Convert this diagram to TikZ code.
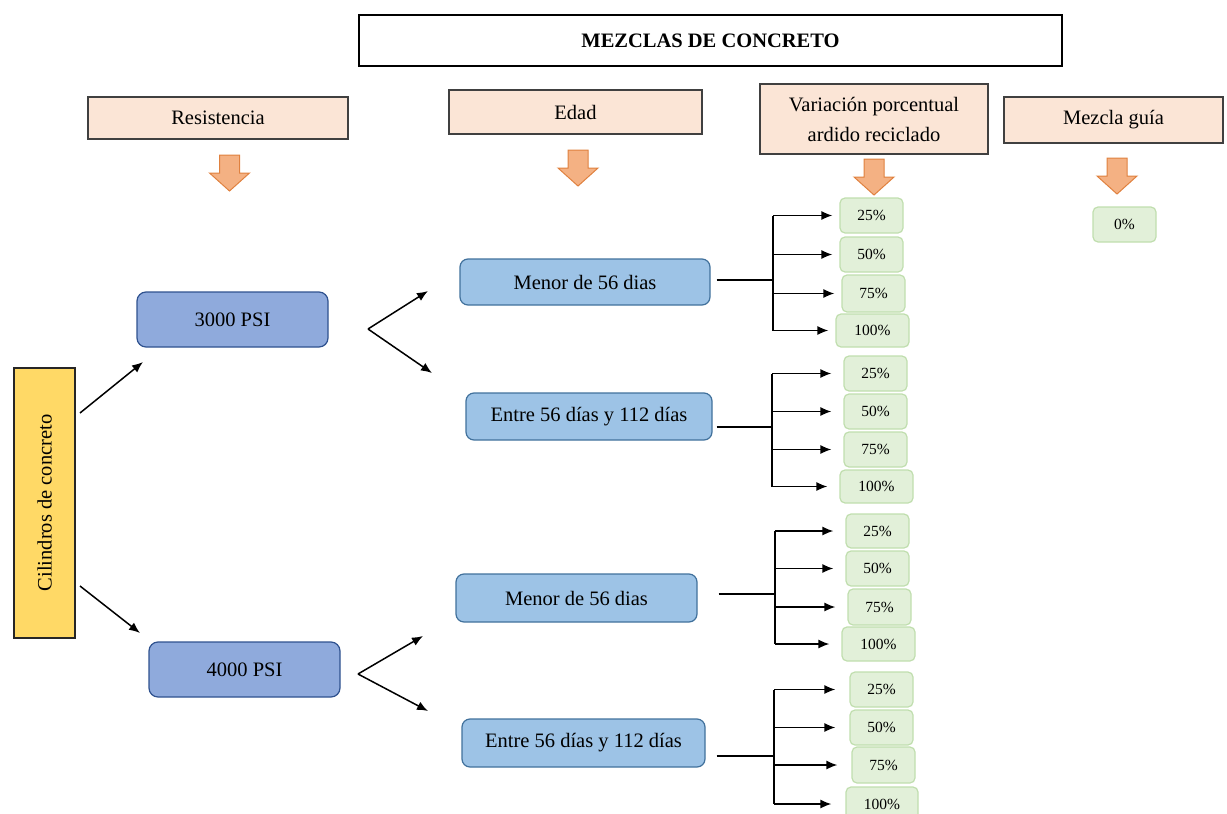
\documentclass[tikz,border=0pt]{standalone}
\usepackage{fontspec}
\setmainfont{Liberation Serif}
\usetikzlibrary{arrows.meta}
\definecolor{peach}{HTML}{FBE5D6}
\definecolor{hdrline}{HTML}{404040}
\definecolor{orgfill}{HTML}{F4B183}
\definecolor{orgdraw}{HTML}{E0813F}
\definecolor{yel}{HTML}{FFD966}
\definecolor{psifill}{HTML}{8FAADC}
\definecolor{psiline}{HTML}{2F528F}
\definecolor{agefill}{HTML}{9DC3E6}
\definecolor{ageline}{HTML}{41719C}
\definecolor{grfill}{HTML}{E2F0D9}
\definecolor{grline}{HTML}{C0DEAE}
\tikzset{
  txt/.style={font=\fontsize{20.5}{24}\selectfont, inner sep=0pt, align=center},
  titlebox/.style={draw=black, line width=1.3pt, fill=white, minimum width=703, minimum height=51, inner sep=0pt, font=\fontsize{20.5}{24}\selectfont\bfseries},
  hdrbox/.style={txt, draw=hdrline, line width=1.3pt, fill=peach},
  cilbox/.style={txt, draw=black!85, line width=1.3pt, fill=yel},
  psibox/.style={txt, draw=psiline, line width=1.2pt, fill=psifill, rounded corners=9pt, minimum width=191, minimum height=55},
  agebox/.style={txt, draw=ageline, line width=1.2pt, fill=agefill, rounded corners=8pt},
  pctbox/.style={draw=grline, line width=1.2pt, fill=grfill, rounded corners=5pt, inner sep=0pt, font=\fontsize{15.5}{18}\selectfont},
  arr/.style={line width=1.5pt, -{Latex[length=11pt,width=9pt]}},
  stem/.style={line width=1.5pt},
  thickstem/.style={line width=2.6pt},
  darr/.pic={\path[fill=orgfill, draw=orgdraw, line width=1pt]
     (-10,0) -- (10,0) -- (10,18) -- (20,18) -- (0,36) -- (-20,18) -- (-10,18) -- cycle;}
}
\begin{document}
\begin{tikzpicture}[x=1pt,y=-1pt]
\useasboundingbox (0,0) rectangle (1227,814);

% headers
\node[titlebox] (title) at (710.5,40.5) {MEZCLAS DE CONCRETO};
\node[hdrbox, minimum width=260, minimum height=42] (res) at (218,118) {Resistencia};
\node[hdrbox, minimum width=253, minimum height=44] (edad) at (575.5,112) {Edad};
\node[hdrbox, minimum width=228, minimum height=70, font=\fontsize{20.5}{30}\selectfont] (var) at (874,119) {Variación porcentual\\ardido reciclado};
\node[hdrbox, minimum width=219, minimum height=46] (mez) at (1113.5,120) {Mezcla guía};

\pic at (229.5,155) {darr};
\pic at (578,150) {darr};
\pic at (874,159) {darr};
\pic at (1117,158) {darr};

\node[pctbox, minimum width=63, minimum height=35] (zero) at (1124.5,224.5) {0\%};

% left column
\node[cilbox, minimum width=61, minimum height=270] (cil) at (44.5,503) {};
\node[txt, rotate=90] (ciltxt) at (cil.center) {Cilindros de concreto};

\node[psibox] (p3) at (232.5,319.5) {3000 PSI};
\node[psibox] (p4) at (244.5,669.5) {4000 PSI};

\coordinate (c3s) at (80,413);
\coordinate (c3e) at (143,362);
\coordinate (c4s) at (80,586);
\coordinate (c4e) at (140,633);
\draw[arr] (c3s) -- (c3e);
\draw[arr] (c4s) -- (c4e);

% age boxes
\node[agebox, minimum width=250, minimum height=46] (m1) at (585,282) {Menor de 56 dias};
\node[agebox, minimum width=246, minimum height=47] (e1) at (589,416.5) {Entre 56 días y 112 días};
\node[agebox, minimum width=241, minimum height=48] (m2) at (576.5,598) {Menor de 56 dias};
\node[agebox, minimum width=243, minimum height=48] (e2) at (583.5,743) {Entre 56 días y 112 días};

\coordinate (v3) at (368,329);
\coordinate (t31) at (428,291);
\coordinate (t32) at (432,373);
\draw[arr] (v3) -- (t31);
\draw[arr] (v3) -- (t32);
\coordinate (v4) at (358,674);
\coordinate (t41) at (423,636);
\coordinate (t42) at (428,711);
\draw[arr] (v4) -- (t41);
\draw[arr] (v4) -- (t42);

% percentage boxes
\node[pctbox, minimum width=63, minimum height=35] (g11) at (871.5,215.5) {25\%};
\node[pctbox, minimum width=63, minimum height=35] (g12) at (871.5,254.5) {50\%};
\node[pctbox, minimum width=63, minimum height=37] (g13) at (873.5,293.5) {75\%};
\node[pctbox, minimum width=73, minimum height=33] (g14) at (872.5,330.5) {100\%};

\node[pctbox, minimum width=63, minimum height=35] (g21) at (875.5,373.5) {25\%};
\node[pctbox, minimum width=63, minimum height=35] (g22) at (875.5,411.5) {50\%};
\node[pctbox, minimum width=63, minimum height=35] (g23) at (875.5,449.5) {75\%};
\node[pctbox, minimum width=73, minimum height=33] (g24) at (876.5,486.5) {100\%};

\node[pctbox, minimum width=63, minimum height=34] (g31) at (877.5,531) {25\%};
\node[pctbox, minimum width=63, minimum height=35] (g32) at (877.5,568.5) {50\%};
\node[pctbox, minimum width=63, minimum height=36] (g33) at (879.5,607) {75\%};
\node[pctbox, minimum width=73, minimum height=34] (g34) at (878.5,644) {100\%};

\node[pctbox, minimum width=63, minimum height=35] (g41) at (881.5,689.5) {25\%};
\node[pctbox, minimum width=63, minimum height=35] (g42) at (881.5,727.5) {50\%};
\node[pctbox, minimum width=63, minimum height=36] (g43) at (883.5,765) {75\%};
\node[pctbox, minimum width=72, minimum height=34] (g44) at (882,804) {100\%};

% brackets
\coordinate (j1) at (773,280);
\draw[thickstem] ([xshift=6pt]m1.east |- j1) -- (j1);
\draw[line width=2pt] (j1 |- g11) -- (j1 |- g14);
\foreach \g in {g11,g12,g13,g14} \draw[arr] (j1 |- \g) -- ([xshift=-7pt]\g.west);

\coordinate (j2) at (772,427);
\draw[stem] ([xshift=4pt]e1.east |- j2) -- (j2);
\draw[stem] (j2 |- g21) -- (j2 |- g24);
\foreach \g in {g21,g22,g23,g24} \draw[arr] (j2 |- \g) -- ([xshift=-12pt]\g.west);

\coordinate (j3) at (775,594);
\draw[thickstem] ([xshift=21pt]m2.east |- j3) -- (j3);
\draw[line width=2pt] (j3 |- g31) -- (j3 |- g34);
\foreach \g in {g31,g32,g33,g34} \draw[arr] (j3 |- \g) -- ([xshift=-12pt]\g.west);

\coordinate (j4) at (774,756);
\draw[stem] ([xshift=11pt]e2.east |- j4) -- (j4);
\draw[stem] (j4 |- g41) -- (j4 |- g44);
\foreach \g in {g41,g42,g43,g44} \draw[arr] (j4 |- \g) -- ([xshift=-14pt]\g.west);
\end{tikzpicture}
\end{document}
